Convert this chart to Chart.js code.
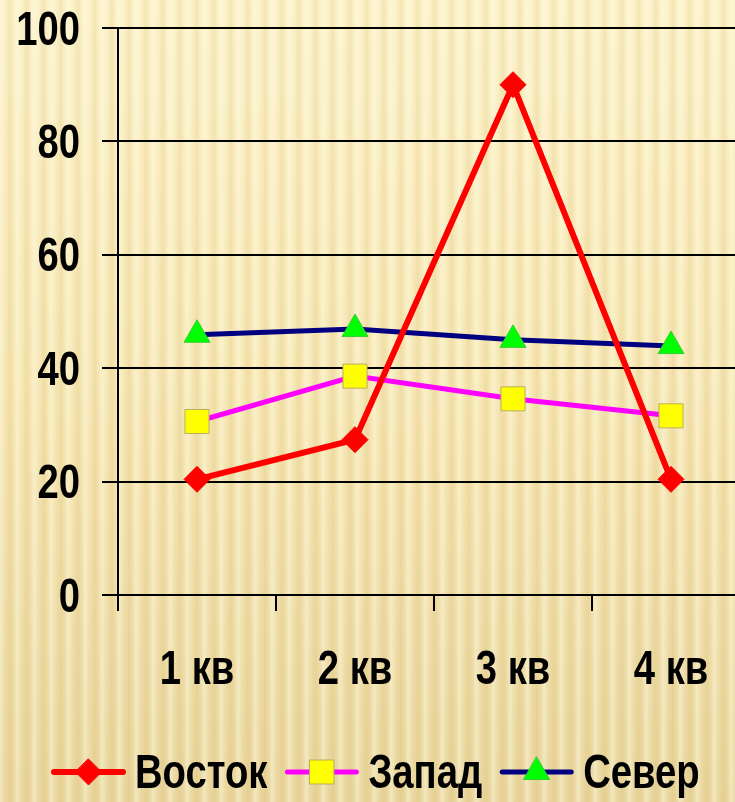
<!DOCTYPE html>
<html>
<head>
<meta charset="utf-8">
<title>Продажи по кварталам</title>
<script src="https://cdn.jsdelivr.net/npm/chart.js@4.4.1/dist/chart.umd.min.js"></script>
<style>
  html, body { margin: 0; padding: 0; width: 735px; height: 802px; overflow: hidden; }
  body {
    background:
      repeating-linear-gradient(90deg,
        rgba(255,255,235,0.40) 0px,
        rgba(255,255,235,0.00) 5px,
        rgba(190,150,50,0.13) 10px,
        rgba(255,255,235,0.00) 14px,
        rgba(255,255,235,0.40) 17px),
      linear-gradient(180deg, #fcf1c9 0%, #f7e8b6 45%, #ead7a0 100%);
  }
  #wrap { position: absolute; left: 0; top: 0; width: 800px; height: 802px; }
</style>
</head>
<body>
<div id="wrap"><canvas id="chart"></canvas></div>
<script>
// Quarterly figures per region
const quarters = ['1 кв', '2 кв', '3 кв', '4 кв'];
const seriesNames = ['Восток', 'Запад', 'Север'];
const vostok = [20.4, 27.4, 90, 20.4];
const zapad = [30.6, 38.6, 34.6, 31.6];
const sever = [45.9, 46.9, 45, 43.9];
const yMin = 0, yMax = 100, yStep = 20;

// Condensed bold lettering: a regular bold face squeezed horizontally
const FONT = "bold 49px 'Liberation Sans', Arial, sans-serif";
const SQUEEZE = 0.78;

const datasets = [
  {
    label: seriesNames[0], data: vostok,
    borderColor: '#ff0000', borderWidth: 6,
    pointStyle: 'rectRot', pointRadius: 13,
    pointBackgroundColor: '#ff0000', pointBorderColor: '#ff0000', pointBorderWidth: 1
  },
  {
    label: seriesNames[1], data: zapad,
    borderColor: '#ff00ff', borderWidth: 5,
    pointStyle: 'rect', pointRadius: 17,
    pointBackgroundColor: '#ffff00', pointBorderColor: '#b8b060', pointBorderWidth: 1
  },
  {
    label: seriesNames[2], data: sever,
    borderColor: '#000080', borderWidth: 5,
    pointStyle: 'triangle', pointRadius: 15,
    pointBackgroundColor: '#00ff00', pointBorderColor: '#33cc33', pointBorderWidth: 1
  }
];
datasets.forEach(d => { d.tension = 0; d.fill = false; d.pointHoverRadius = d.pointRadius; });

function squeezedText(ctx, text, x, y, align) {
  ctx.save();
  ctx.translate(x, y);
  ctx.scale(SQUEEZE, 1);
  ctx.textAlign = align;
  ctx.fillText(text, 0, 0);
  ctx.restore();
}

// Marker drawn in the legend, shaped like the dataset's point style
function drawMarker(ctx, ds, x, y) {
  const r = ds.pointRadius;
  ctx.save();
  ctx.fillStyle = ds.pointBackgroundColor;
  ctx.strokeStyle = ds.pointBorderColor;
  ctx.lineWidth = ds.pointBorderWidth;
  ctx.beginPath();
  if (ds.pointStyle === 'rectRot') {
    ctx.moveTo(x, y - r); ctx.lineTo(x + r, y); ctx.lineTo(x, y + r); ctx.lineTo(x - r, y);
  } else if (ds.pointStyle === 'rect') {
    const s = r * Math.SQRT1_2;
    ctx.rect(x - s, y - s, 2 * s, 2 * s);
  } else {
    const h = r * Math.sqrt(3) / 2;
    ctx.moveTo(x, y - r); ctx.lineTo(x + h, y + r / 2); ctx.lineTo(x - h, y + r / 2);
  }
  ctx.closePath();
  ctx.fill();
  ctx.stroke();
  ctx.restore();
}

// Axis labels and the legend, both in the squeezed lettering
const lettering = {
  id: 'lettering',
  afterDraw(chart) {
    const ctx = chart.ctx;
    ctx.save();
    ctx.font = FONT;
    ctx.fillStyle = '#000000';
    ctx.textBaseline = 'middle';

    const ys = chart.scales.y;
    ys.ticks.forEach((t, i) => {
      squeezedText(ctx, String(t.value), ys.left + ys.width - 38, ys.getPixelForTick(i) + 3, 'right');
    });
    const xs = chart.scales.x;
    xs.ticks.forEach((t, i) => {
      squeezedText(ctx, xs.getLabelForValue(t.value), xs.getPixelForTick(i), chart.chartArea.bottom + 75, 'center');
    });

    const y = 772;
    let x = 54;
    chart.data.datasets.forEach(ds => {
      const len = 69;
      ctx.strokeStyle = ds.borderColor;
      ctx.lineWidth = ds.borderWidth;
      ctx.lineCap = 'round';
      ctx.beginPath();
      ctx.moveTo(x, y); ctx.lineTo(x + len, y);
      ctx.stroke();
      drawMarker(ctx, ds, x + len / 2, y);
      x += len + 12;
      squeezedText(ctx, ds.label, x, y + 2, 'left');
      x += ctx.measureText(ds.label).width * SQUEEZE + 20;
    });
    ctx.restore();
  }
};

new Chart(document.getElementById('chart'), {
  type: 'line',
  data: { labels: quarters, datasets },
  plugins: [lettering],
  options: {
    responsive: true,
    maintainAspectRatio: false,
    animation: false,
    layout: { padding: { top: 28, right: 50, bottom: 105, left: 0 } },
    plugins: { legend: { display: false }, tooltip: { enabled: false } },
    scales: {
      x: {
        offset: true,
        afterFit(scale) { scale.height = 102; },
        grid: { offset: true, drawOnChartArea: false, drawTicks: true, tickLength: 16, color: '#000000', lineWidth: 2 },
        border: { display: true, color: '#000000', width: 2 },
        ticks: { color: 'rgba(0,0,0,0)', font: { size: 10 }, maxRotation: 0 }
      },
      y: {
        min: yMin, max: yMax,
        afterFit(scale) { scale.width = 118; },
        grid: { color: '#000000', lineWidth: 2, tickLength: 16, drawTicks: true },
        border: { display: true, color: '#000000', width: 2 },
        ticks: { stepSize: yStep, color: 'rgba(0,0,0,0)', font: { size: 10 } }
      }
    }
  }
});
</script>
</body>
</html>
